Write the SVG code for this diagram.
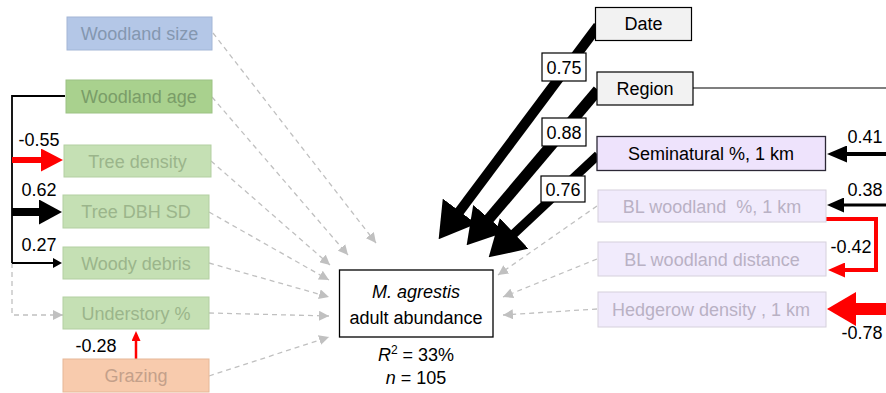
<svg xmlns="http://www.w3.org/2000/svg" width="886" height="393" viewBox="0 0 886 393">
<style>
text{font-family:"Liberation Sans",Arial,sans-serif;font-size:18px;text-anchor:middle}
.lbl{fill:#000}
.dash{fill:none;stroke:#c0c0c0;stroke-width:1.3;stroke-dasharray:5 4}
.blk{fill:none;stroke:#000}
.red{fill:none;stroke:#ff0000}
.vbox{fill:#fff;stroke:#000;stroke-width:1.2}
</style>
<defs>
<marker id="mGray" markerUnits="userSpaceOnUse" viewBox="0 0 10 10" markerWidth="10" markerHeight="10" refX="10" refY="5" orient="auto"><path d="M0,0 L10,5 L0,10 Z" fill="#c0c0c0"/></marker>
<marker id="mBig" markerUnits="userSpaceOnUse" viewBox="0 0 35 42" markerWidth="35" markerHeight="42" refX="1" refY="21" orient="auto"><path d="M0,0 L35,21 L0,42 Z" fill="#000"/></marker>
<marker id="mRed55" markerUnits="userSpaceOnUse" viewBox="0 0 22 23" markerWidth="22" markerHeight="23" refX="1" refY="11.5" orient="auto"><path d="M0,0 L22,11.5 L0,23 Z" fill="#ff0000"/></marker>
<marker id="mBlk62" markerUnits="userSpaceOnUse" viewBox="0 0 23 25" markerWidth="23" markerHeight="25" refX="1" refY="12.5" orient="auto"><path d="M0,0 L23,12.5 L0,25 Z" fill="#000"/></marker>
<marker id="mBlkS" markerUnits="userSpaceOnUse" viewBox="0 0 9 10" markerWidth="9" markerHeight="10" refX="1" refY="5" orient="auto"><path d="M0,0 L9,5 L0,10 Z" fill="#000"/></marker>
<marker id="mRedS" markerUnits="userSpaceOnUse" viewBox="0 0 10 9" markerWidth="10" markerHeight="9" refX="1" refY="4.5" orient="auto"><path d="M0,0 L10,4.5 L0,9 Z" fill="#ff0000"/></marker>
<marker id="mBlk41" markerUnits="userSpaceOnUse" viewBox="0 0 20 17" markerWidth="20" markerHeight="17" refX="1" refY="8.5" orient="auto"><path d="M0,0 L20,8.5 L0,17 Z" fill="#000"/></marker>
<marker id="mBlk38" markerUnits="userSpaceOnUse" viewBox="0 0 17 15" markerWidth="17" markerHeight="15" refX="1" refY="7.5" orient="auto"><path d="M0,0 L17,7.5 L0,15 Z" fill="#000"/></marker>
<marker id="mRed42" markerUnits="userSpaceOnUse" viewBox="0 0 17 15" markerWidth="17" markerHeight="15" refX="1" refY="7.5" orient="auto"><path d="M0,0 L17,7.5 L0,15 Z" fill="#ff0000"/></marker>
<marker id="mRed78" markerUnits="userSpaceOnUse" viewBox="0 0 29 34" markerWidth="29" markerHeight="34" refX="1" refY="17" orient="auto"><path d="M0,0 L29,17 L0,34 Z" fill="#ff0000"/></marker>
</defs>

<g id="connectors">
<!-- gray dashed to response -->
<path class="dash" d="M213,33 L376,243" marker-end="url(#mGray)"/>
<path class="dash" d="M212,97 L348,255" marker-end="url(#mGray)"/>
<path class="dash" d="M211,161 L330,265" marker-end="url(#mGray)"/>
<path class="dash" d="M209,212 L329,280" marker-end="url(#mGray)"/>
<path class="dash" d="M209,263 L329,297" marker-end="url(#mGray)"/>
<path class="dash" d="M209,313 L329,316" marker-end="url(#mGray)"/>
<path class="dash" d="M209,376 L329,337" marker-end="url(#mGray)"/>
<path class="dash" d="M597,206 L498,275" marker-end="url(#mGray)"/>
<path class="dash" d="M597,259 L503,297" marker-end="url(#mGray)"/>
<path class="dash" d="M597,309 L503,315" marker-end="url(#mGray)"/>
<path class="dash" d="M12,263 V315 H63" marker-end="url(#mGray)"/>
<!-- left black bracket -->
<path class="blk" d="M65,96 H12 V263" stroke-width="1.8"/>
<path class="red" d="M12,160 H42" stroke-width="6" marker-end="url(#mRed55)"/>
<path class="blk" d="M12,212 H40" stroke-width="8" marker-end="url(#mBlk62)"/>
<path class="blk" d="M12,263 H54" stroke-width="2.2" marker-end="url(#mBlkS)"/>
<path class="red" d="M136,359 V340" stroke-width="2.5" marker-end="url(#mRedS)"/>
<!-- big arrows -->
<path class="blk" d="M598,26 L459,212" stroke-width="10" marker-end="url(#mBig)"/>
<path class="blk" d="M598,90 L488.6,219.3" stroke-width="11" marker-end="url(#mBig)"/>
<path class="blk" d="M598,155 L513.5,234.1" stroke-width="9" marker-end="url(#mBig)"/>
<!-- right side -->
<path class="blk" d="M693,88 H886" stroke-width="1.2"/>
<path class="blk" d="M886,154 H846" stroke-width="4" marker-end="url(#mBlk41)"/>
<path class="blk" d="M886,205 H843" stroke-width="3" marker-end="url(#mBlk38)"/>
<path class="red" d="M826,219 H876 V270 H844" stroke-width="4" marker-end="url(#mRed42)"/>
<path class="red" d="M886,309 H855" stroke-width="12" marker-end="url(#mRed78)"/>
<!-- labels -->
<text x="39" y="146">-0.55</text>
<text x="39" y="196">0.62</text>
<text x="39" y="251">0.27</text>
<text x="96" y="352">-0.28</text>
<text x="865" y="143">0.41</text>
<text x="865" y="196">0.38</text>
<text x="851" y="253">-0.42</text>
<text x="862" y="339">-0.78</text>
<rect class="vbox" x="542" y="53" width="44" height="28"/>
<text x="564" y="74">0.75</text>
<rect class="vbox" x="542" y="118" width="44" height="28"/>
<text x="564" y="139">0.88</text>
<rect class="vbox" x="541" y="176" width="44" height="26"/>
<text x="563" y="196">0.76</text>
</g>

<g id="woodland-size"><rect x="67" y="17" width="145" height="33" fill="#b4c7e7" stroke="#a3b6d6"/><text x="139.5" y="40" fill="#8497b0">Woodland size</text></g>
<g id="woodland-age"><rect x="66" y="80" width="146" height="33" fill="#a9d18e" stroke="#9cc283"/><text x="139" y="103" fill="#7a9d68">Woodland age</text></g>
<g id="tree-density"><rect x="64" y="145" width="147" height="32" fill="#c5e0b4" stroke="#b3cfa2"/><text x="137.5" y="167.5" fill="#9bb58b">Tree density</text></g>
<g id="tree-dbh-sd"><rect x="63" y="195" width="146" height="33" fill="#c5e0b4" stroke="#b3cfa2"/><text x="136" y="218" fill="#9bb58b">Tree DBH SD</text></g>
<g id="woody-debris"><rect x="63" y="247" width="146" height="32" fill="#c5e0b4" stroke="#b3cfa2"/><text x="136" y="269.5" fill="#9bb58b">Woody debris</text></g>
<g id="understory"><rect x="63" y="297" width="146" height="32" fill="#c5e0b4" stroke="#b3cfa2"/><text x="136" y="319.5" fill="#9bb58b">Understory %</text></g>
<g id="grazing"><rect x="63" y="359" width="146" height="33" fill="#f8cbad" stroke="#e6b898"/><text x="136" y="382" fill="#c4a08a">Grazing</text></g>

<g id="response"><rect x="339.5" y="270" width="153.5" height="67" fill="#fff" stroke="#000" stroke-width="1.3"/>
<text x="416" y="298" font-style="italic">M. agrestis</text>
<text x="416" y="324">adult abundance</text>
<text x="416" y="361"><tspan font-style="italic">R</tspan><tspan font-size="12" dy="-7">2</tspan><tspan dy="7"> = 33%</tspan></text>
<text x="416" y="384"><tspan font-style="italic">n</tspan> = 105</text>
</g>

<g id="date"><rect x="595.5" y="7.5" width="96" height="33" fill="#f2f2f2" stroke="#000" stroke-width="1.2"/><text x="643.5" y="30">Date</text></g>
<g id="region"><rect x="597" y="72" width="96" height="33" fill="#f2f2f2" stroke="#000" stroke-width="1.2"/><text x="645" y="95">Region</text></g>
<g id="seminatural"><rect x="597" y="136.5" width="228.5" height="34" fill="#eee3fc" stroke="#2c2836" stroke-width="1.3"/><text x="711" y="160">Seminatural %, 1 km</text></g>
<g id="bl-woodland-pct"><rect x="598" y="190" width="228" height="32" fill="#f1ebfc" stroke="#d5d0dc"/><text x="712" y="212.5" fill="#b9b1c4" xml:space="preserve">BL woodland  %, 1 km</text></g>
<g id="bl-woodland-dist"><rect x="598" y="242" width="228" height="34" fill="#f1ebfc" stroke="#d5d0dc"/><text x="712" y="265.5" fill="#b9b1c4">BL woodland distance</text></g>
<g id="hedgerow"><rect x="598" y="292" width="228" height="35" fill="#f1ebfc" stroke="#d5d0dc"/><text x="711" y="316" fill="#b9b1c4">Hedgerow density , 1 km</text></g>
</svg>
